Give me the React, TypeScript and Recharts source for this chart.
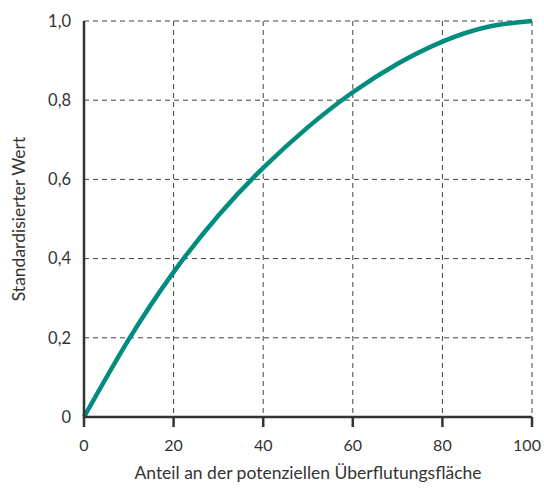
import { LineChart, Line, XAxis, YAxis, CartesianGrid, Label } from 'recharts';

const anteil = [0, 10, 20, 30, 40, 50, 60, 70, 80, 90, 100];
const wert = [0, 0.196, 0.366, 0.509, 0.629, 0.732, 0.82, 0.892, 0.948, 0.985, 1.0];

const xTicks = [0, 20, 40, 60, 80, 100];
const yTicks = [0, 0.2, 0.4, 0.6, 0.8, 1.0];

const data = anteil.map((x, i) => ({ x, y: wert[i] }));

const fmt = (v: number) => (v === 0 ? '0' : v.toFixed(1).replace('.', ','));
const font = 'Lato, "Noto Sans", sans-serif';

function XTick({ x, y, payload }: any) {
  // the last label sits a bit left of its tick so it stays inside the frame
  const shift = payload.value === 100 ? -5 : 0;
  return (
    <text
      x={x + shift}
      y={y}
      dy="0.71em"
      textAnchor="middle"
      fill="#333"
      fontSize={16}
      fontFamily={font}
    >
      {payload.value}
    </text>
  );
}

function YTitle({ viewBox }: any) {
  const cx = viewBox.x + 25;
  const cy = viewBox.y + viewBox.height / 2;
  return (
    <text
      x={cx}
      y={cy}
      transform={`rotate(-90 ${cx} ${cy})`}
      textAnchor="middle"
      fill="#333"
      fontSize={17.5}
      fontFamily={font}
    >
      Standardisierter Wert
    </text>
  );
}

export default function App() {
  return (
    <div style={{ position: 'absolute', left: 0, top: 0, background: '#fff' }}>
      <LineChart
        width={544}
        height={491}
        data={data}
        margin={{ top: 21, right: 12, left: 0, bottom: 0 }}
      >
        <CartesianGrid stroke="#444" strokeDasharray="5 4" strokeWidth={1} />
        <XAxis
          dataKey="x"
          type="number"
          domain={[0, 100]}
          ticks={xTicks}
          height={74}
          stroke="#333"
          strokeWidth={2.5}
          tickSize={10}
          tickMargin={13}
          tick={<XTick />}
        >
          <Label
            value="Anteil an der potenziellen Überflutungsfläche"
            position="insideBottom"
            offset={12}
            fill="#333"
            fontSize={17.5}
            fontFamily={font}
          />
        </XAxis>
        <YAxis
          type="number"
          domain={[0, 1]}
          ticks={yTicks}
          width={84}
          stroke="#333"
          strokeWidth={2.5}
          tickLine={false}
          tickSize={6}
          tickMargin={7}
          tickFormatter={fmt}
          tick={{ fill: '#333', fontSize: 16.5, fontFamily: font }}
        >
          <Label content={<YTitle />} />
        </YAxis>
        <Line
          type="natural"
          dataKey="y"
          stroke="#008C7E"
          strokeWidth={4.5}
          dot={false}
          isAnimationActive={false}
        />
      </LineChart>
    </div>
  );
}
